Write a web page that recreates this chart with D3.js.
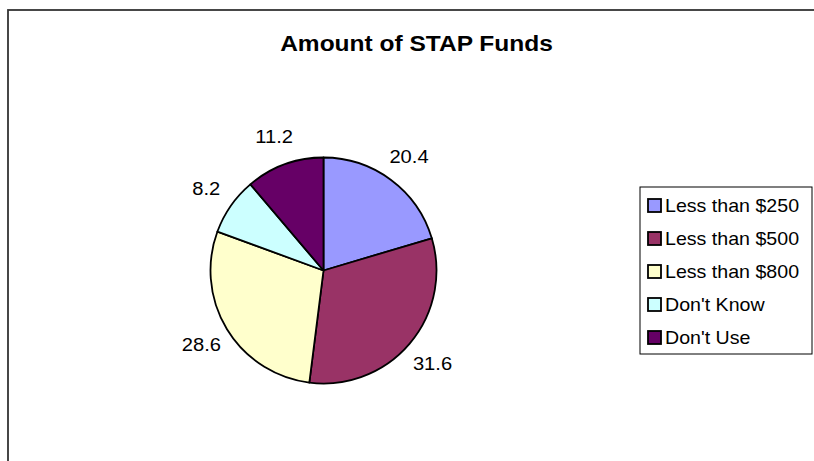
<!DOCTYPE html>
<html>
<head>
<meta charset="utf-8">
<script src="https://cdn.jsdelivr.net/npm/d3@7"></script>
<style>
  html, body { margin: 0; padding: 0; background: #fff; }
  svg { display: block; }
  text { font-family: "Liberation Sans", Arial, sans-serif; fill: #000; }
</style>
</head>
<body>
<svg id="chart" width="814" height="461"></svg>
<script>
// Survey results: amount of STAP funds (percent of respondents)
const categories = ["Less than $250", "Less than $500", "Less than $800", "Don't Know", "Don't Use"];
const values = [20.4, 31.6, 28.6, 8.2, 11.2];
const colors = ["#9999FF", "#993366", "#FFFFCC", "#CCFFFF", "#660066"];
const title = "Amount of STAP Funds";

const W = 814, H = 461;
const textStretch = 1.09;   // glyphs are drawn slightly wide
const svg = d3.select("#chart");

// chart area frame (runs off the right and bottom of the view)
svg.append("rect")
  .attr("x", 8).attr("y", 10)
  .attr("width", W + 20).attr("height", H + 20)
  .attr("fill", "#fff")
  .attr("stroke", "#333").attr("stroke-width", 1.8);

// title
svg.append("g")
  .attr("transform", `translate(416.5,51) scale(${textStretch},1)`)
  .append("text")
  .attr("text-anchor", "middle")
  .attr("font-size", 22.5)
  .attr("font-weight", "bold")
  .text(title);

// pie
const cx = 323.5, cy = 270.5, R = 113;
const data = categories.map((c, i) => ({ name: c, value: values[i], color: colors[i] }));
const pie = d3.pie().value(d => d.value).sort(null);
const arcs = pie(data);
const arc = d3.arc().innerRadius(0).outerRadius(R);
const labelArc = d3.arc().innerRadius(143).outerRadius(143);

const gPie = svg.append("g").attr("transform", `translate(${cx},${cy})`);
gPie.selectAll("path.slice")
  .data(arcs)
  .join("path")
  .attr("class", "slice")
  .attr("d", arc)
  .attr("fill", d => d.data.color)
  .attr("stroke", "#000")
  .attr("stroke-width", 1.8)
  .attr("stroke-linejoin", "round");

gPie.selectAll("g.lbl")
  .data(arcs)
  .join("g")
  .attr("class", "lbl")
  .attr("transform", d => {
    const [x, y] = labelArc.centroid(d);
    return `translate(${x},${y}) scale(${textStretch},1)`;
  })
  .append("text")
  .attr("text-anchor", "middle")
  .attr("dy", "0.36em")
  .attr("font-size", 18.5)
  .text(d => d3.format(".1f")(d.data.value));

// legend
const lx = 640, ly = 187, lw = 172, lh = 167, rowH = 33;
const gLeg = svg.append("g").attr("transform", `translate(${lx},${ly})`);
gLeg.append("rect")
  .attr("width", lw).attr("height", lh)
  .attr("fill", "#fff")
  .attr("stroke", "#000").attr("stroke-width", 1);

const rows = gLeg.selectAll("g.row")
  .data(data)
  .join("g")
  .attr("class", "row")
  .attr("transform", (d, i) => `translate(0,${19 + i * rowH})`);

rows.append("rect")
  .attr("x", 8).attr("y", -7)
  .attr("width", 13).attr("height", 13)
  .attr("fill", d => d.color)
  .attr("stroke", "#000").attr("stroke-width", 1.8);

rows.append("g")
  .attr("transform", `translate(25,0) scale(${textStretch},1)`)
  .append("text")
  .attr("dy", "0.36em")
  .attr("font-size", 18)
  .text(d => d.name);
</script>
</body>
</html>
